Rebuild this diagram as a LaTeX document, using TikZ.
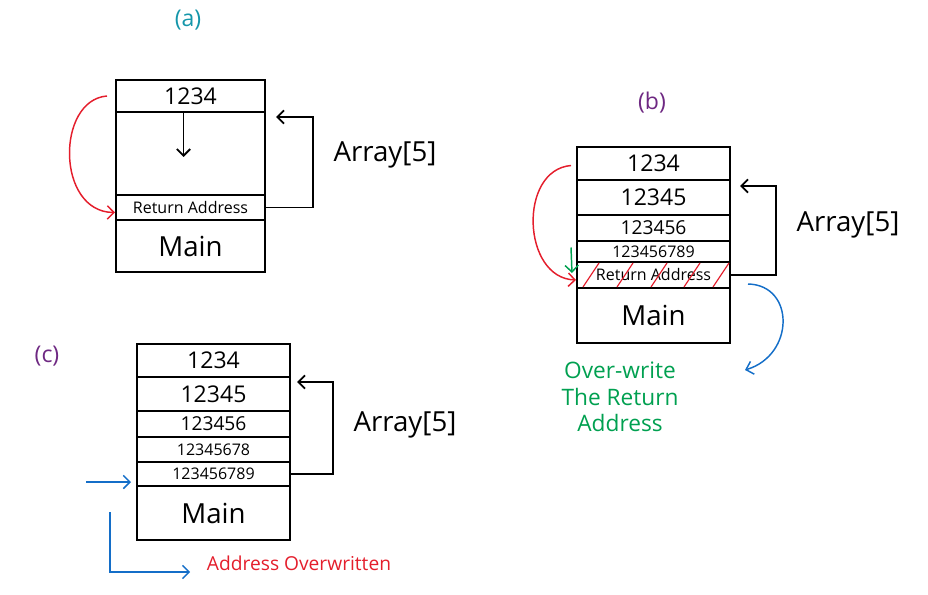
\documentclass[tikz,border=0pt]{standalone}
\usepackage{fontspec}
\setmainfont{Open Sans}
\usetikzlibrary{positioning,calc,arrows.meta}
\definecolor{handred}{RGB}{228,30,44}
\definecolor{handgreen}{RGB}{0,160,80}
\definecolor{handblue}{RGB}{20,110,200}
\definecolor{handteal}{RGB}{20,150,170}
\definecolor{handpurple}{RGB}{110,40,130}
\begin{document}
\begin{tikzpicture}[x=0.75pt,y=0.75pt,yscale=-1,xscale=1,
  >={Straight Barb[length=5pt,width=10pt]},
  cell/.style={draw, line width=1.4pt, inner sep=0pt, outer sep=0pt, minimum width=114.75pt},
  hand/.style={line width=1.4pt},
  redline/.style={->, line width=1.1pt, handred},
  greenline/.style={->, line width=1.1pt, handgreen},
  blueline/.style={->, line width=1.1pt, handblue},
  arrlabel/.style={font=\huge},
  tag/.style={font=\LARGE}]
\useasboundingbox (0,0) rectangle (928,595);

\node[tag, handteal] (la) at (188,20) {(a)};
\node[cell, minimum width=111.75pt, minimum height=24pt, font=\LARGE] (a1) at (190.5,96) {1234};
\node[cell, minimum width=111.75pt, minimum height=62.25pt, below=0pt of a1] (a2) {};
\node[cell, minimum width=111.75pt, minimum height=18.75pt, below=0pt of a2, font=\large] (a3) {Return Address};
\node[cell, minimum width=111.75pt, minimum height=39pt, below=0pt of a3, font=\huge] (a4) {Main};
\draw[hand, ->] ($(a2.north)+(-7,0)$) -- ++(0,45);
\draw[redline] ($(a1.west)+(-9,0)$) .. controls (56,100) and (56,212) .. ($(a3.west)+(-1,5)$);
\draw[hand, ->] (a3.east) -- ++(48,0) |- ($(a2.north east)+(11,5)$);
\node[arrlabel] (arra) at (385,155) {Array[5]};

\node[tag, handpurple] (lb) at (652,103) {(b)};
\node[cell, minimum height=24.75pt, font=\LARGE] (b1) at (653.5,163.5) {1234};
\node[cell, minimum height=26.25pt, below=0pt of b1, font=\LARGE] (b2) {12345};
\node[cell, minimum height=19.5pt, below=0pt of b2, font=\Large] (b3) {123456};
\node[cell, minimum height=15.75pt, below=0pt of b3, font=\large] (b4) {123456789};
\node[cell, minimum height=19.5pt, below=0pt of b4, font=\large] (b5) {Return Address};
\node[cell, minimum height=41.25pt, below=0pt of b5, font=\huge] (b6) {Main};
\foreach \s in {6,40,74,107,136}
  \draw[handred, line width=0.9pt] ($(b5.south west)+(\s,-1)$) -- ++(16,-24);
\draw[redline] ($(b1.west)+(-6,2)$) .. controls (518,170) and (522,278) .. ($(b5.west)+(-1,5)$);
\draw[greenline] ($(b4.west)+(-6,-4)$) -- ($(b5.west)+(-5,-2)$);
\draw[hand, ->] (b5.east) -- ++(46,0) |- ($(b2.north east)+(10,6)$);
\node[arrlabel] (arrb) at (848,225) {Array[5]};
\coordinate (ob) at (745,370);
\draw[blueline] ($(b5.south east)+(18,-4)$) .. controls (795,285) and (795,355) .. (ob);
\node[handgreen, align=center, font=\fontsize{17}{20}\selectfont] (note) at (620,397) {Over-write\\The Return\\Address};

\node[tag, handpurple] (lc) at (47,356) {(c)};
\node[cell, minimum height=24.75pt, font=\LARGE] (c1) at (213.5,360.5) {1234};
\node[cell, minimum height=25.5pt, below=0pt of c1, font=\LARGE] (c2) {12345};
\node[cell, minimum height=19.5pt, below=0pt of c2, font=\Large] (c3) {123456};
\node[cell, minimum height=18.75pt, below=0pt of c3, font=\large] (c4) {12345678};
\node[cell, minimum height=18pt, below=0pt of c4, font=\large] (c5) {123456789};
\node[cell, minimum height=40.5pt, below=0pt of c5, font=\huge] (c6) {Main};
\draw[hand, ->] (c5.east) -- ++(43,0) |- ($(c2.north east)+(7,5)$);
\node[arrlabel] (arrc) at (405,425) {Array[5]};
\node[handred, font=\Large] (aw) at (299,563) {Address Overwritten};
\coordinate (cin) at (86,482);
\draw[blueline] (cin) -- ($(c5.south west)+(-6,-4)$);
\coordinate (cdn) at (110,512);
\draw[blueline] (cdn) |- ($(aw.west)+(-12,9)$);
\end{tikzpicture}
\end{document}
